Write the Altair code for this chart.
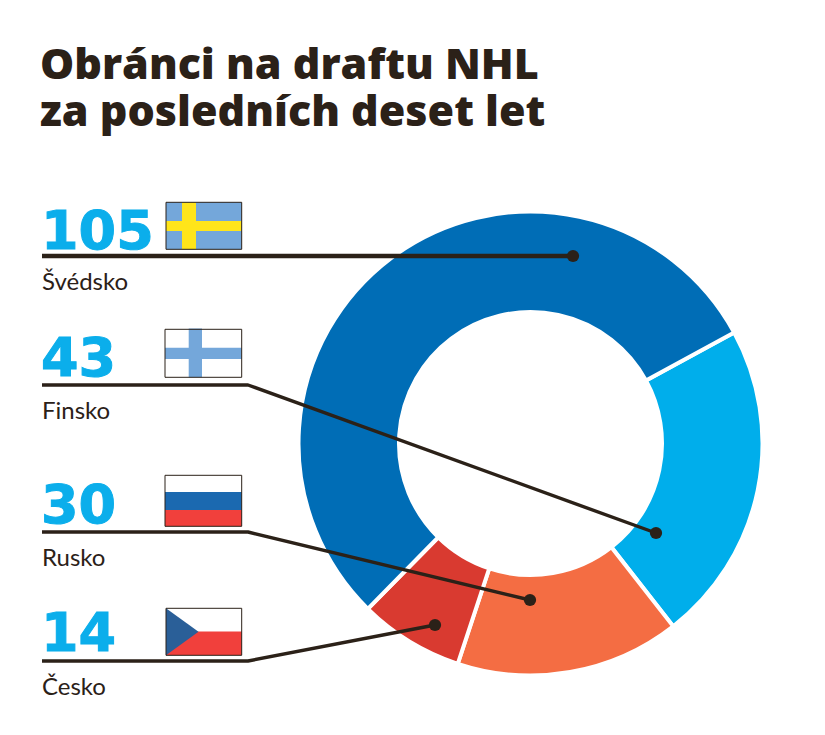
import altair as alt
import pandas as pd
import math

# Chart values
countries = ["Švédsko", "Finsko", "Rusko", "Česko"]
values = [105, 43, 30, 14]
slice_colors = ["#006DB6", "#00AEEB", "#F46D43", "#D93A30"]
title_lines = ["Obránci na draftu NHL", "za posledních deset let"]

# Picture geometry (825x735 picture coordinates)
W, H = 809, 719
OFF = 8
CX, CY = 530.5, 443.5
label_x = 42
number_base = [249, 376, 523, 651]
name_base = [290, 419, 566, 695]
leader_y = [256, 385, 532, 661]
elbow_x = [None, 248, 248, 248]
dots = [(573, 256), (656, 533), (530, 600), (435, 625)]
leader_w = [4.5, 3.4, 3.4, 3.4]
INK = "#2B2118"

x = alt.X("x:Q", scale=alt.Scale(domain=[OFF, OFF + W], range=[0, W]), axis=None)
y = alt.Y("y:Q", scale=alt.Scale(domain=[OFF, OFF + H], range=[0, H]), axis=None)

# Donut: clockwise from the Sweden/Finland boundary, Sweden last
order = [1, 2, 3, 0]
donut_df = pd.DataFrame({
    "country": [countries[i] for i in order],
    "value": [values[i] for i in order],
    "ord": [0, 1, 2, 3],
})
start = math.radians(61.4)
donut = alt.Chart(donut_df).mark_arc(
    outerRadius=232, innerRadius=131.5, stroke="white", strokeWidth=4
).encode(
    theta=alt.Theta("value:Q", stack=True, scale=alt.Scale(domain=[0, sum(values)], range=[start, start + 2 * math.pi])),
    order=alt.Order("ord:Q"),
    color=alt.Color("country:N", scale=alt.Scale(domain=countries, range=slice_colors), legend=None),
).encode(x=alt.value(CX - OFF), y=alt.value(CY - OFF))

# Flags: (x1, x2, y1, y2, colour), in draw order
flag_rects = [
    (166, 241.7, 202.3, 249.3, "#74A7DA"),
    (182, 196, 202.3, 249.3, "#FFE51A"),
    (166, 241.7, 221, 231, "#FFE51A"),
    (165, 241.7, 329.3, 377.3, "#FFFFFF"),
    (188.7, 202, 328.5, 377.3, "#74A7DA"),
    (165, 241.7, 347.7, 359, "#74A7DA"),
    (165, 241.7, 492, 510, "#1B69B0"),
    (165, 241.7, 510, 526.3, "#F1403C"),
    (166, 241.7, 631.5, 655.3, "#F1403C"),
]
rect_df = pd.DataFrame(flag_rects, columns=["x", "x2", "y", "y2", "c"]).reset_index()
flags = alt.Chart(rect_df).mark_rect(strokeWidth=0).encode(
    x=x, x2="x2:Q", y=y, y2="y2:Q", color=alt.Color("c:N", scale=None)
)
tri_df = pd.DataFrame({"x": [166, 198.5], "y": [608.3, 631.8], "y2": [655.3, 631.8]})
triangle = alt.Chart(tri_df).mark_area(color="#2A5F98", interpolate="linear", orient="vertical").encode(
    x=x, y=y, y2="y2:Q"
)
border_df = pd.DataFrame({
    "x": [166, 165, 165, 166], "x2": [241.7] * 4,
    "y": [202.3, 329.3, 475.3, 608.3], "y2": [249.3, 377.3, 526.3, 655.3],
})
borders = alt.Chart(border_df).mark_rect(fillOpacity=0, stroke=INK, strokeWidth=1).encode(
    x=x, x2="x2:Q", y=y, y2="y2:Q"
)

# Leader lines
rows = []
for i, c in enumerate(countries):
    pts = [(label_x, leader_y[i])]
    if elbow_x[i] is not None:
        pts.append((elbow_x[i], leader_y[i]))
    pts.append(dots[i])
    for k, (px, py) in enumerate(pts):
        rows.append({"c": c, "k": k, "x": px, "y": py, "w": leader_w[i]})
leaders = alt.Chart(pd.DataFrame(rows)).mark_line(color=INK, strokeCap="butt", strokeJoin="round").encode(
    x=x, y=y, detail="c:N", order="k:Q",
    strokeWidth=alt.StrokeWidth("w:Q", scale=None),
)
dot_df = pd.DataFrame({"x": [d[0] for d in dots], "y": [d[1] for d in dots]})
points = alt.Chart(dot_df).mark_point(filled=True, color=INK, size=150, opacity=1).encode(x=x, y=y)

# Text
title_df = pd.DataFrame({"x": [40, 40], "y": [79, 126], "t": title_lines})
title = alt.Chart(title_df).mark_text(
    align="left", baseline="alphabetic", font="Open Sans", fontWeight=800, fontSize=43, color=INK
).encode(x=x, y=y, text="t:N")
num_df = pd.DataFrame({"x": [label_x - 1] * 4, "y": number_base, "t": [str(v) for v in values]})
numbers = alt.Chart(num_df).mark_text(
    align="left", baseline="alphabetic", font="DejaVu Sans", fontWeight="bold", fontSize=54,
    color="#0BAEEB", stroke="#0BAEEB", strokeWidth=1
).encode(x=x, y=y, text="t:N")
name_df = pd.DataFrame({"x": [label_x] * 4, "y": name_base, "t": countries})
names = alt.Chart(name_df).mark_text(
    align="left", baseline="alphabetic", font="Lato", fontSize=24, color=INK
).encode(x=x, y=y, text="t:N")

chart = alt.layer(donut, flags, triangle, borders, leaders, points, title, numbers, names).properties(
    width=W, height=H, padding=0, autosize=alt.AutoSizeParams(type="none"), background="white"
).configure_view(stroke=None)

chart.save("out.html", embed_options={"renderer": "svg", "actions": False})
